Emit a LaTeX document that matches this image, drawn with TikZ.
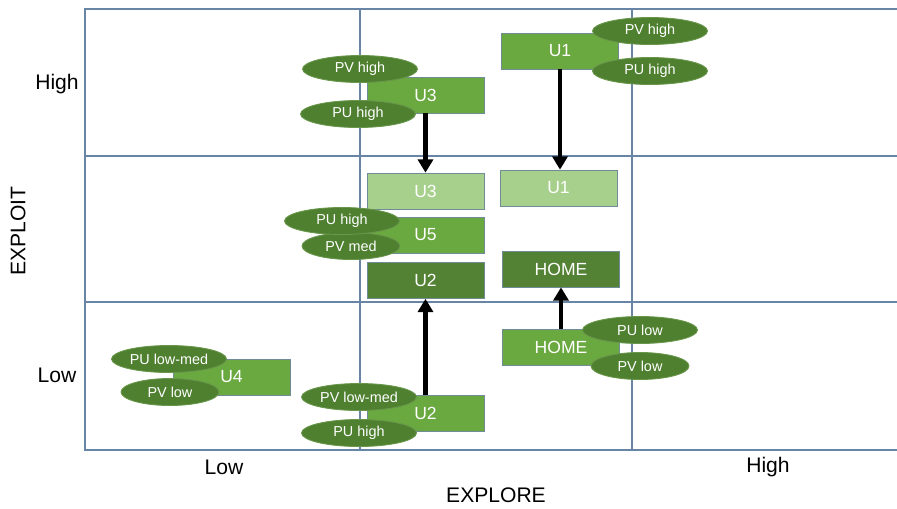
\documentclass[tikz,border=0pt]{standalone}
\usepackage{fontspec}
\setmainfont{Liberation Sans}
\usetikzlibrary{arrows.meta,shapes.geometric}
\definecolor{gridblue}{RGB}{104,133,166}
\definecolor{boxedge}{RGB}{112,140,150}
\definecolor{midgreen}{RGB}{106,168,64}
\definecolor{lightgreen}{RGB}{168,208,141}
\definecolor{darkgreen}{RGB}{84,130,53}
\definecolor{pillgreen}{RGB}{78,128,48}
\definecolor{pilledge}{RGB}{104,150,74}
\tikzset{
  box/.style={draw=boxedge,line width=0.4pt,minimum width=2.34cm,minimum height=0.72cm,
    inner sep=0pt,text=white,font=\fontsize{10}{12}\selectfont},
  midbox/.style={box,fill=midgreen},
  lightbox/.style={box,fill=lightgreen},
  darkbox/.style={box,fill=darkgreen},
  pill/.style={ellipse,draw=pilledge,line width=0.5pt,fill=pillgreen,text=white,inner sep=0pt,
    minimum width=2.3cm,minimum height=0.54cm,font=\fontsize{8.2}{10}\selectfont},
  smallpill/.style={pill,minimum width=1.96cm},
  move/.style={line width=2.7pt,-{Triangle[width=8.5pt,length=7.5pt]}},
  axis/.style={font=\fontsize{12}{14}\selectfont}
}
\begin{document}
\begin{tikzpicture}[x=0.02cm,y=-0.02cm]
\useasboundingbox (0,0) rectangle (897,508);
\draw[gridblue,line width=0.8pt] (360,9) -- (360,450) (632,9) -- (632,450)
  (85,156) -- (897,156) (85,302) -- (897,302);
\draw[gridblue,line width=1.1pt] (897,9) -- (85,9) -- (85,450) -- (897,450);

\node[midbox] (u3a) at (425.5,95) {U3};
\node[pill] (u3pv) at (360,69) {PV high};
\node[pill] (u3pu) at (358,114) {PU high};

\node[lightbox] (u3b) at (425.5,191) {U3};
\node[midbox] (u5) at (425.5,235) {U5};
\node[smallpill] (u5pv) at (351,246) {PV med};
\node[pill] (u5pu) at (342,221) {PU high};
\node[darkbox] (u2b) at (425.5,280.5) {U2};

\node[midbox] (u1a) at (560,51) {U1};
\node[pill] (u1pv) at (650,31) {PV high};
\node[pill] (u1pu) at (650,71) {PU high};
\node[lightbox] (u1b) at (558.5,188) {U1};

\node[darkbox] (homeb) at (561,269) {HOME};
\node[midbox] (homea) at (561,347.5) {HOME};
\node[pill] (homepu) at (640,330) {PU low};
\node[smallpill] (homepv) at (640,366) {PV low};

\node[midbox] (u4) at (231.5,377) {U4};
\node[pill] (u4pu) at (169,359) {PU low-med};
\node[smallpill] (u4pv) at (170,392) {PV low};

\node[midbox] (u2a) at (425.5,413.5) {U2};
\node[pill] (u2pv) at (359,397) {PV low-med};
\node[pill] (u2pu) at (359,433) {PU high};

\draw[move] (u3a) -- (u3b);
\draw[move] (u1a.south) -- (u1a.south |- u1b.north);
\draw[move] (u2a) -- (u2b);
\draw[move] (homea) -- (homeb);

\node[axis] (yhigh) at (57,84) {High};
\node[axis] (ylow) at (57,375) {Low};
\node[axis,rotate=90] (ylab) at (18,231) {EXPLOIT};
\node[axis] (xlow) at (224,467) {Low};
\node[axis] (xhigh) at (768,467) {High};
\node[axis] (xlab) at (496,495) {EXPLORE};
\end{tikzpicture}
\end{document}
